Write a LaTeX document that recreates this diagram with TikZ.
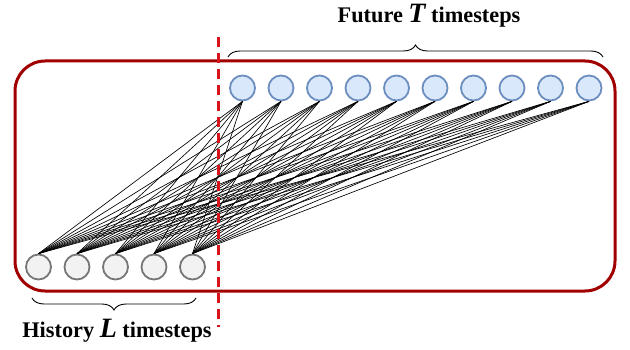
\documentclass[tikz,border=0pt]{standalone}
\usepackage{fontspec}
\setmainfont{Liberation Serif}
\usetikzlibrary{decorations.pathreplacing}

\definecolor{boxred}{RGB}{160,0,0}
\definecolor{cutred}{RGB}{214,20,28}
\definecolor{futfill}{RGB}{218,232,252}
\definecolor{futdraw}{RGB}{108,142,191}
\definecolor{histfill}{RGB}{242,242,242}
\definecolor{histdraw}{RGB}{118,118,118}

\newcommand{\StepNode}{38.5}
\newcommand{\HistY}{267}
\newcommand{\FutY}{88}

\begin{document}
\begin{tikzpicture}[
  x = 1pt, y = -1pt,
  hist/.style={circle,draw=histdraw,fill=histfill,line width=1.8pt,minimum size=25pt,inner sep=0pt},
  fut/.style={circle,draw=futdraw,fill=futfill,line width=1.8pt,minimum size=25pt,inner sep=0pt},
  link/.style={black,line width=0.65pt},
  frame/.style={boxred,line width=3pt,rounded corners=30pt},
  cut/.style={cutred,line width=3pt,dash pattern=on 10pt off 6pt},
  curly/.style={decorate,decoration={brace,amplitude=12pt},line width=0.9pt},
  caption/.style={font=\fontsize{22.3}{25}\selectfont\bfseries,inner sep=0pt}
  ]
	\useasboundingbox (0,0) rectangle (630,350);

	%draw the frame
	\draw[frame] (15,61) rectangle (615,291);

	%draw the history and future steps
	\foreach \i in {1,...,5}
		\node[hist] (h\i) at ({38.5+(\i-1)*\StepNode},\HistY) {};
	\foreach \j in {1,...,10}
		\node[fut] (f\j) at ({242.5+(\j-1)*\StepNode},\FutY) {};

	%connect every history step to every future step
	\foreach \i in {1,...,5}
		\foreach \j in {1,...,10}
			\draw[link] (h\i.north) -- (f\j.south);

	%draw the cut between history and future
	\coordinate (cuttop) at (218,37);
	\coordinate (cutbot) at (218,327);
	\draw[cut] (cuttop) -- (cutbot);

	%draw the braces and their texts
	\draw[curly] (228,57) -- (603,57);
	\draw[curly] (196,298) -- (32,298);
	\node[caption] (futtext) at (429,16) {Future {\fontsize{28}{28}\selectfont\itshape T} timesteps};
	\node[caption] (histtext) at (117,331) {History {\fontsize{28}{28}\selectfont\itshape L} timesteps};

\end{tikzpicture}
\end{document}
